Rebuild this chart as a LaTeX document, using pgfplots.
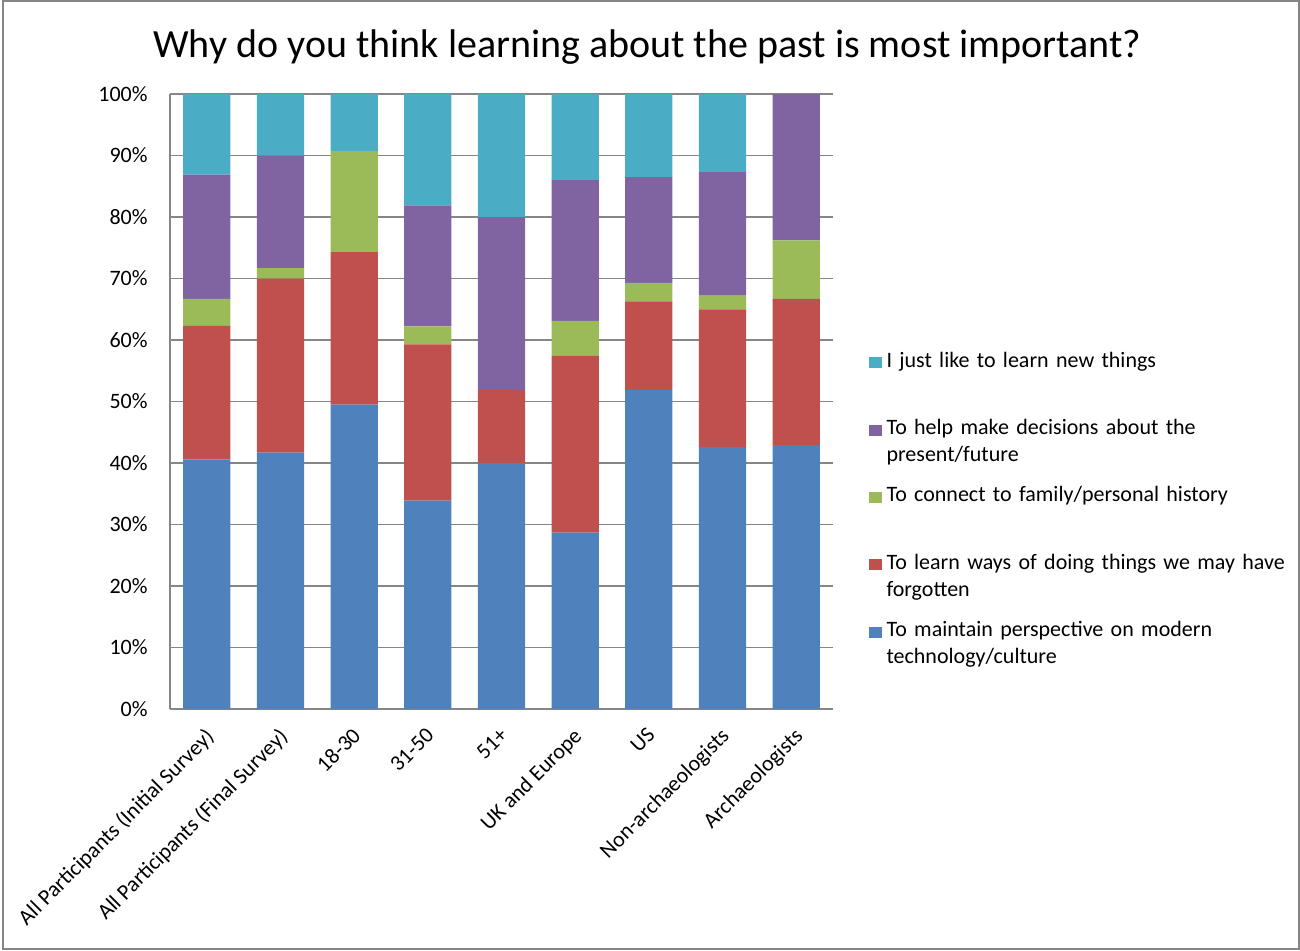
\documentclass[border=0pt]{standalone}
\usepackage{pgfplots}
\pgfplotsset{compat=1.18}
\usepackage{fontspec}
\setmainfont{Carlito}
\definecolor{cblue}{HTML}{4F81BD}
\definecolor{cred}{HTML}{C0504D}
\definecolor{cgreen}{HTML}{9BBB59}
\definecolor{cpurple}{HTML}{8064A2}
\definecolor{ccyan}{HTML}{4BACC6}
\definecolor{cgrid}{HTML}{868686}
\pgfplotsset{sqlegend/.style={legend image code/.code={\fill[##1] (0pt,8.25pt) rectangle (6.25pt,13.75pt);}}}
\begin{document}
\begin{tikzpicture}
\useasboundingbox (0,0) rectangle (650pt,475pt);
\draw[cgrid, line width=1pt] (1.25pt,0.75pt) rectangle (649.25pt,474.5pt);
\node[font=\fontsize{20}{24}\selectfont, anchor=base] at (323.75pt,446pt) {Why do you think learning about the past is most important?};
\begin{axis}[
  at={(85pt,120.5pt)}, anchor=south west, scale only axis,
  width=331.5pt, height=307.5pt,
  ybar stacked, bar width=0.642,
  every axis plot post/.append style={sqlegend},
  xmin=-0.5, xmax=8.5, ymin=0, ymax=100,
  xtick={0,...,8},
  xticklabels={All Participants (Initial Survey), All Participants (Final Survey), 18-30, 31-50, 51+, UK and Europe, US, Non-archaeologists, Archaeologists},
  ytick={0,10,...,100},
  yticklabels={0\%,10\%,20\%,30\%,40\%,50\%,60\%,70\%,80\%,90\%,100\%},
  major tick length=0pt,
  axis lines*=left,
  axis line style={cgrid, line width=0.6pt},
  ymajorgrids, grid style={cgrid, line width=0.6pt},
  tick label style={font=\fontsize{11}{13.6}\selectfont},
  yticklabel style={anchor=east, inner sep=0pt, xshift=-11pt},
  xticklabel style={inner sep=0pt, xshift=-1.5pt, yshift=-8.5pt, rotate=45, anchor=north east},
  reverse legend,
  legend cell align=left,
  legend style={at={(1.0543,0.5821)}, anchor=north west, draw=none, fill=none,
    inner sep=0pt, outer sep=0pt, row sep=0pt, column sep=2.5pt,
    nodes={font=\fontsize{11}{13.6}\selectfont, text width=210pt, align=left,
      inner sep=0pt, text height=8pt, text depth=25.7pt}},
]
\addplot[fill=cblue, draw=none] coordinates {(0,40.6) (1,41.7) (2,49.5) (3,33.9) (4,40.0) (5,28.7) (6,51.9) (7,42.6) (8,42.9)};
\addlegendentry{To maintain perspective on modern\\technology/culture}
\addplot[fill=cred, draw=none] coordinates {(0,21.7) (1,28.3) (2,24.8) (3,25.4) (4,11.9) (5,28.7) (6,14.4) (7,22.4) (8,23.8)};
\addlegendentry{To learn ways of doing things we may have\\forgotten}
\addplot[fill=cgreen, draw=none] coordinates {(0,4.4) (1,1.7) (2,16.4) (3,2.9) (4,0) (5,5.7) (6,3.0) (7,2.2) (8,9.5)};
\addlegendentry{To connect to family/personal history}
\addplot[fill=cpurple, draw=none] coordinates {(0,20.2) (1,18.3) (2,0) (3,19.7) (4,28.1) (5,22.9) (6,17.2) (7,20.1) (8,23.8)};
\addlegendentry{To help make decisions about the\\present/future}
\addplot[fill=ccyan, draw=none] coordinates {(0,13.1) (1,10.0) (2,9.3) (3,18.1) (4,20.0) (5,14.0) (6,13.5) (7,12.7) (8,0)};
\addlegendentry{I just like to learn new things}
\end{axis}
\end{tikzpicture}
\end{document}
